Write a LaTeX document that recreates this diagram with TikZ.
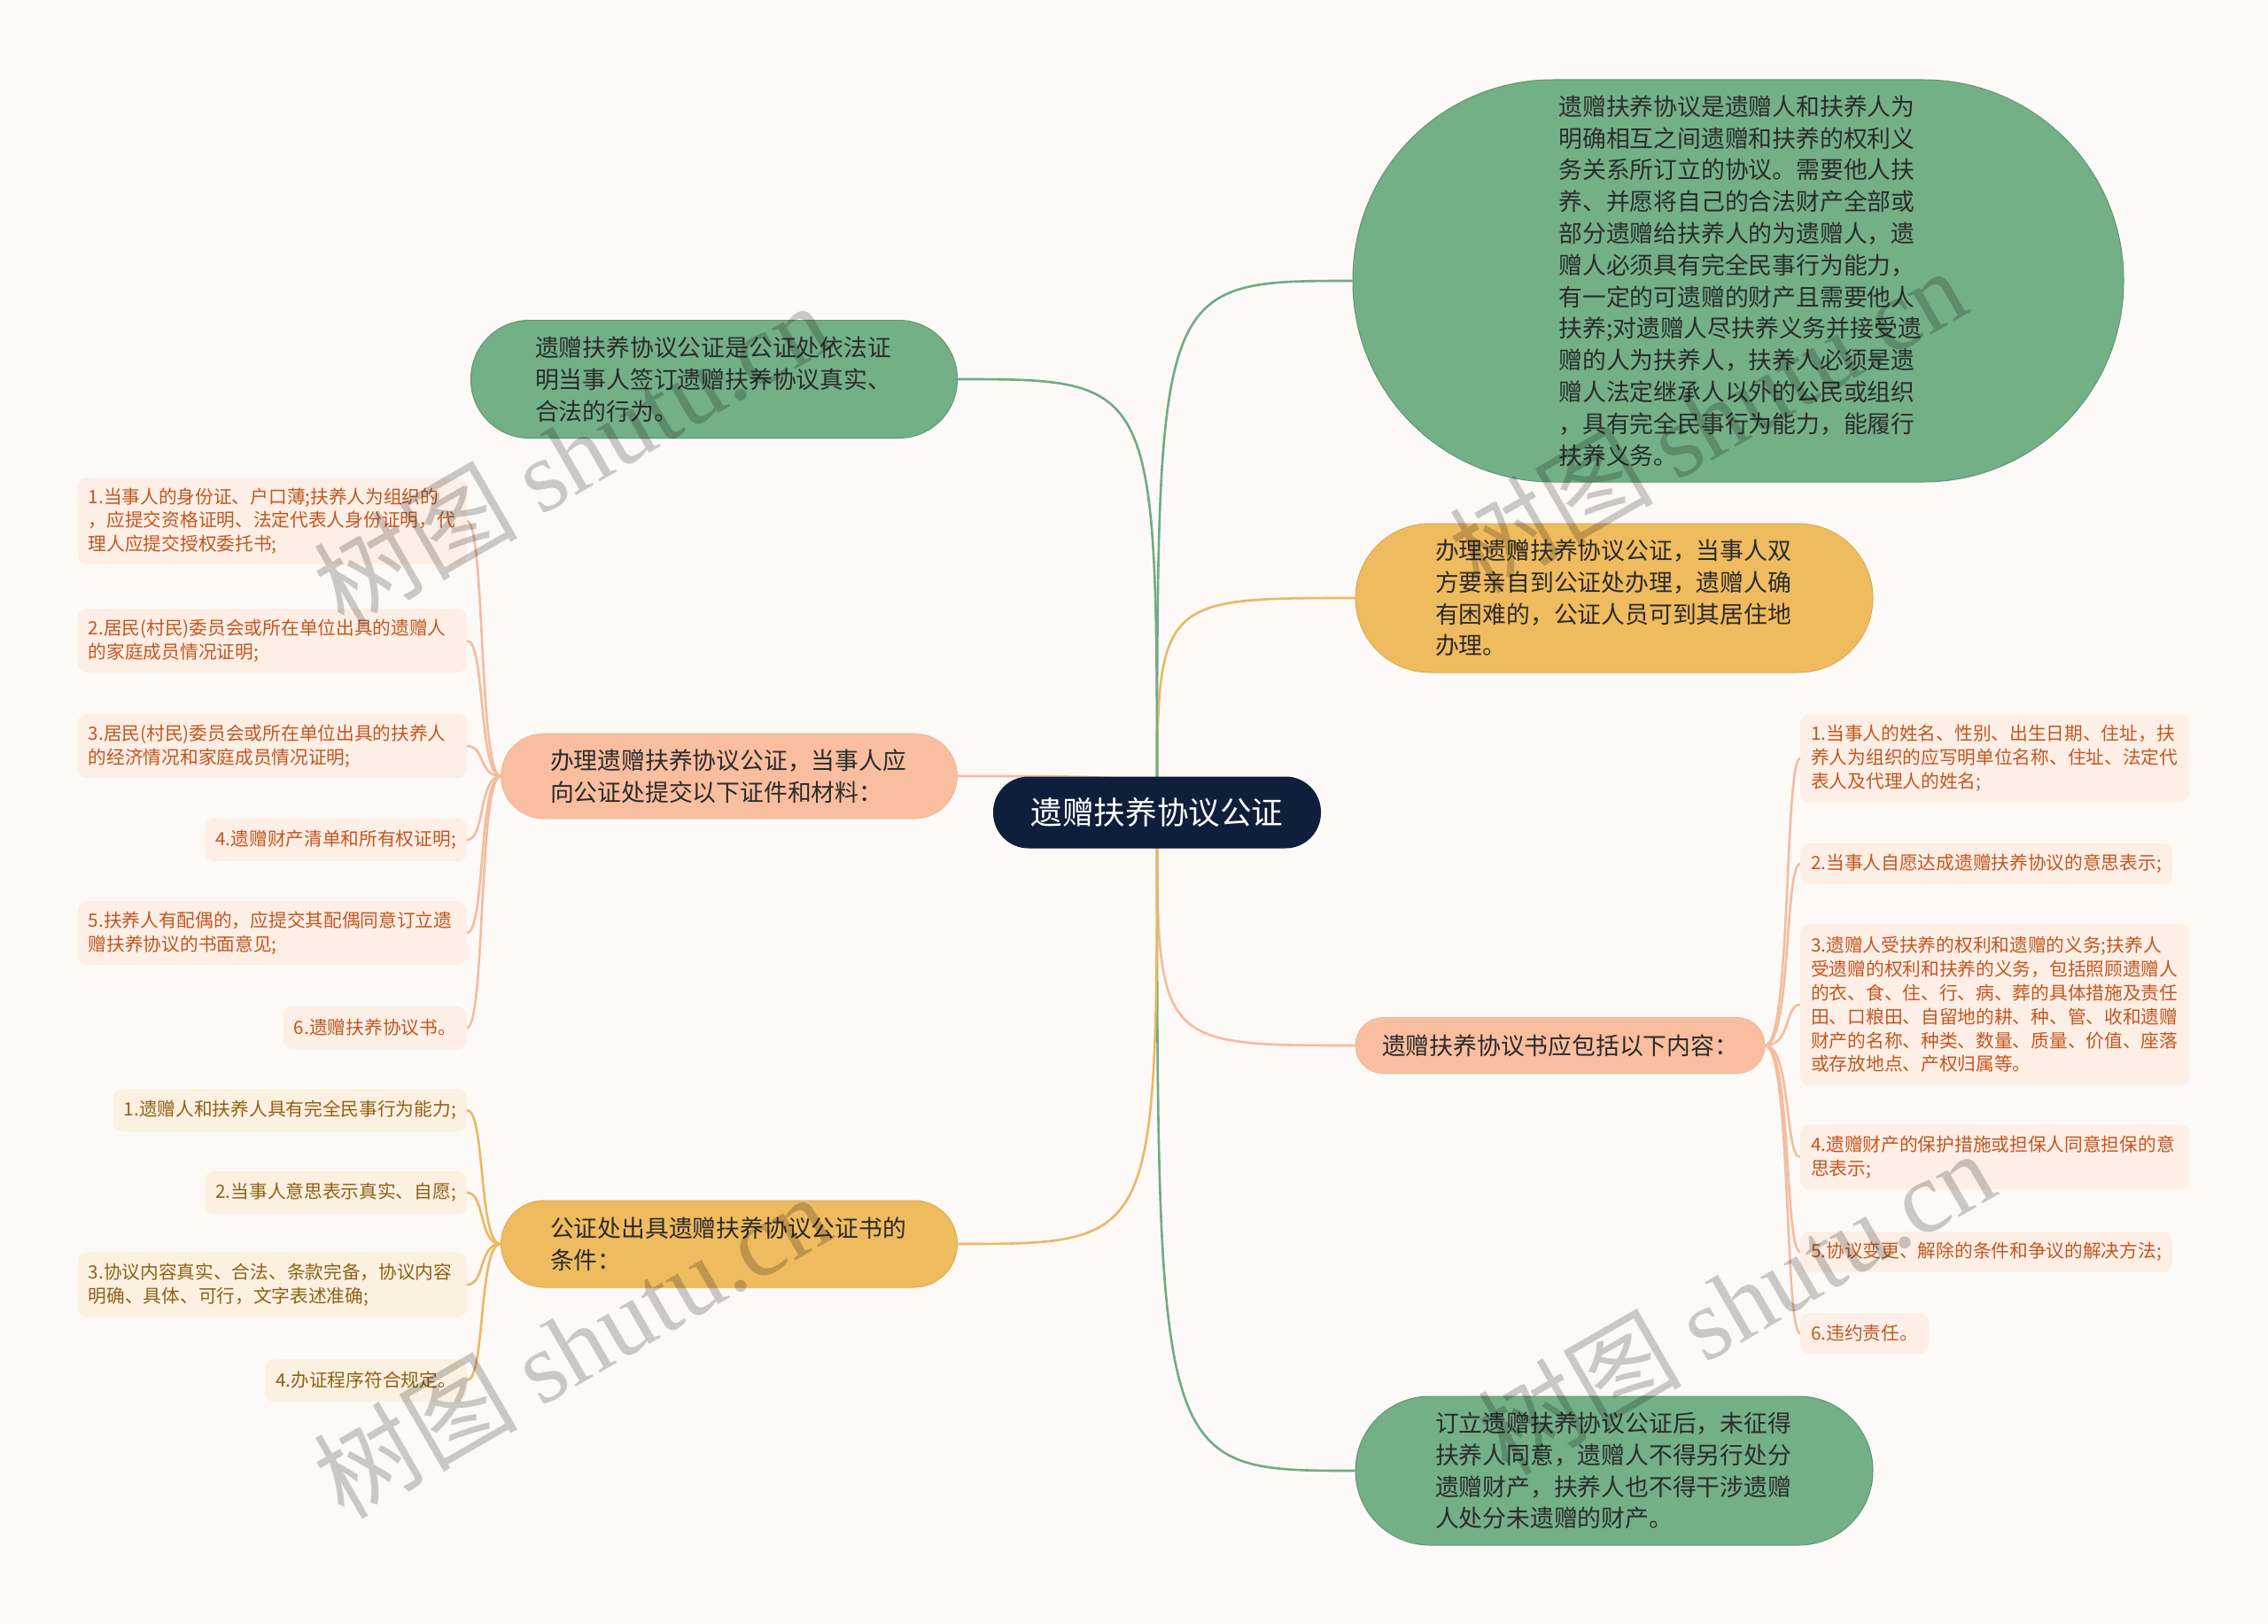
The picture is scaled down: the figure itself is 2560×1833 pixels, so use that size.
\documentclass[tikz,border=0pt]{standalone}
\usepackage{fontspec}
\setmainfont{Noto Sans CJK SC}
\newfontfamily\wmserif{Liberation Serif}
\pgfdeclarelayer{bg}
\pgfdeclarelayer{fg}
\pgfsetlayers{bg,main,fg}
\definecolor{bgc}{HTML}{FDF9F7}
\definecolor{gfill}{HTML}{73B088}
\definecolor{gline}{HTML}{6FAC84}
\definecolor{ofill}{HTML}{EFBB5F}
\definecolor{oline}{HTML}{EBB862}
\definecolor{pfill}{HTML}{F8BE9F}
\definecolor{pline}{HTML}{F4BC9E}
\definecolor{navy}{HTML}{0F1F3B}
\definecolor{maintext}{HTML}{2B2B2B}
\definecolor{ptext}{HTML}{C2571F}
\definecolor{pleaf}{HTML}{FDEEE6}
\definecolor{otext}{HTML}{8E6214}
\definecolor{oleaf}{HTML}{FCF0E1}
\tikzset{
  mainbox/.style={align=left, text=maintext, inner sep=0pt,
    font=\fontsize{26.8pt}{35.8pt}\selectfont},
  greenbox/.style={mainbox, fill=gfill, draw=gfill!85!black, line width=1pt},
  goldbox/.style={mainbox, fill=ofill, draw=ofill!92!black, line width=1pt},
  peachbox/.style={mainbox, fill=pfill, draw=pfill!95!black, line width=0.6pt},
  leafbase/.style={align=left, rounded corners=10pt, inner xsep=12pt, inner ysep=4pt,
    font=\fontsize{20.7pt}{26.8pt}\selectfont},
  pleafbox/.style={leafbase, fill=pleaf, text=ptext},
  oleafbox/.style={leafbase, fill=oleaf, text=otext},
  wide/.style={text width=415pt},
  conn/.style={line width=2.6pt},
  wm/.style={text=black, opacity=0.2, rotate=30, font=\fontsize{115pt}{115pt}\selectfont, inner sep=0pt}
}
\begin{document}
\begin{tikzpicture}[x=1pt,y=-1pt]
\begin{pgfonlayer}{bg}
\fill[bgc] (0,0) rectangle (2560,1833);
\end{pgfonlayer}
\useasboundingbox (0,0) rectangle (2560,1833);

% center
\node[fill=navy, text=white, rounded corners=40pt, minimum width=370pt, minimum height=81pt,
  inner sep=0pt, font=\fontsize{35.6pt}{40pt}\selectfont] (ctr) at (1306,917) {遗赠扶养协议公证};

% right main nodes
\node[greenbox, rounded corners=226pt, minimum width=870pt, minimum height=454pt, text width=405pt] (n1) at (1962,317) {遗赠扶养协议是遗赠人和扶养人为\\明确相互之间遗赠和扶养的权利义\\务关系所订立的协议。需要他人扶\\养、并愿将自己的合法财产全部或\\部分遗赠给扶养人的为遗赠人，遗\\赠人必须具有完全民事行为能力，\\有一定的可遗赠的财产且需要他人\\扶养;对遗赠人尽扶养义务并接受遗\\赠的人为扶养人，扶养人必须是遗\\赠人法定继承人以外的公民或组织\\，具有完全民事行为能力，能履行\\扶养义务。};
\node[goldbox, rounded corners=84pt, minimum width=584pt, minimum height=168pt, text width=404pt] (n2) at (1822,675) {办理遗赠扶养协议公证，当事人双\\方要亲自到公证处办理，遗赠人确\\有困难的，公证人员可到其居住地\\办理。};
\node[peachbox, rounded corners=31pt, minimum width=462pt, minimum height=63pt] (n3) at (1761,1180) {遗赠扶养协议书应包括以下内容：};
\node[greenbox, rounded corners=84pt, minimum width=584pt, minimum height=168pt, text width=404pt] (n4) at (1822,1660) {订立遗赠扶养协议公证后，未征得\\扶养人同意，遗赠人不得另行处分\\遗赠财产，扶养人也不得干涉遗赠\\人处分未遗赠的财产。};

% left main nodes
\node[greenbox, rounded corners=66pt, minimum width=549pt, minimum height=133pt, text width=404pt] (n5) at (806,428) {遗赠扶养协议公证是公证处依法证\\明当事人签订遗赠扶养协议真实、\\合法的行为。};
\node[peachbox, rounded corners=48pt, minimum width=515pt, minimum height=96pt, text width=404pt] (n6) at (823,876) {办理遗赠扶养协议公证，当事人应\\向公证处提交以下证件和材料：};
\node[goldbox, rounded corners=49pt, minimum width=515pt, minimum height=98pt, text width=404pt] (n7) at (823,1404) {公证处出具遗赠扶养协议公证书的\\条件：};

% left peach leaves
\node[pleafbox, wide, minimum height=97pt, anchor=east] (L1) at (527,588) {1.当事人的身份证、户口薄;扶养人为组织的\\，应提交资格证明、法定代表人身份证明，代\\理人应提交授权委托书;};
\node[pleafbox, wide, minimum height=72pt, anchor=east] (L2) at (527,723) {2.居民(村民)委员会或所在单位出具的遗赠人\\的家庭成员情况证明;};
\node[pleafbox, wide, minimum height=72pt, anchor=east] (L3) at (527,842) {3.居民(村民)委员会或所在单位出具的扶养人\\的经济情况和家庭成员情况证明;};
\node[pleafbox, minimum height=48pt, anchor=east] (L4) at (527,948) {4.遗赠财产清单和所有权证明;};
\node[pleafbox, wide, minimum height=72pt, anchor=east] (L5) at (527,1053) {5.扶养人有配偶的，应提交其配偶同意订立遗\\赠扶养协议的书面意见;};
\node[pleafbox, minimum height=48pt, anchor=east] (L6) at (527,1160) {6.遗赠扶养协议书。};

% left gold leaves
\node[oleafbox, minimum height=48pt, anchor=east] (G1) at (527,1253) {1.遗赠人和扶养人具有完全民事行为能力;};
\node[oleafbox, minimum height=48pt, anchor=east] (G2) at (527,1346) {2.当事人意思表示真实、自愿;};
\node[oleafbox, wide, minimum height=73pt, anchor=east] (G3) at (527,1450) {3.协议内容真实、合法、条款完备，协议内容\\明确、具体、可行，文字表述准确;};
\node[oleafbox, minimum height=48pt, anchor=east] (G4) at (527,1558) {4.办证程序符合规定。};

% right peach leaves
\node[pleafbox, wide, minimum height=99pt, anchor=west] (R1) at (2032,856) {1.当事人的姓名、性别、出生日期、住址，扶\\养人为组织的应写明单位名称、住址、法定代\\表人及代理人的姓名;};
\node[pleafbox, minimum height=46pt, anchor=west] (R2) at (2032,975) {2.当事人自愿达成遗赠扶养协议的意思表示;};
\node[pleafbox, wide, minimum height=182pt, anchor=west] (R3) at (2032,1134) {3.遗赠人受扶养的权利和遗赠的义务;扶养人\\受遗赠的权利和扶养的义务，包括照顾遗赠人\\的衣、食、住、行、病、葬的具体措施及责任\\田、口粮田、自留地的耕、种、管、收和遗赠\\财产的名称、种类、数量、质量、价值、座落\\或存放地点、产权归属等。};
\node[pleafbox, wide, minimum height=73pt, anchor=west] (R4) at (2032,1306) {4.遗赠财产的保护措施或担保人同意担保的意\\思表示;};
\node[pleafbox, minimum height=46pt, anchor=west] (R5) at (2032,1413) {5.协议变更、解除的条件和争议的解决方法;};
\node[pleafbox, minimum height=46pt, anchor=west] (R6) at (2032,1505) {6.违约责任。};

\begin{pgfonlayer}{bg}
% main connectors
\draw[conn, gline] (ctr.center) .. controls (1306,317) and (1306,317) .. (n1.west);
\draw[conn, oline] (ctr.center) .. controls (1306,675) and (1306,675) .. (n2.west);
\draw[conn, pline] (ctr.center) .. controls (1306,1180) and (1306,1180) .. (n3.west);
\draw[conn, gline] (ctr.center) .. controls (1306,1660) and (1306,1660) .. (n4.west);
\draw[conn, gline] (ctr.center) .. controls (1306,428) and (1306,428) .. (n5.east);
\draw[conn, pline] (ctr.center) .. controls (1306,876) and (1306,876) .. (n6.east);
\draw[conn, oline] (ctr.center) .. controls (1306,1404) and (1306,1404) .. (n7.east);
% left peach leaves
\foreach \n/\y in {L1/588, L2/723, L3/842, L4/948, L5/1053, L6/1160}
  \draw[conn, pline] (n6.west) .. controls (540,876) and (548,\y) .. (\n.east);
% left gold leaves
\foreach \n/\y in {G1/1253, G2/1346, G3/1450, G4/1558}
  \draw[conn, oline] (n7.west) .. controls (540,1404) and (548,\y) .. (\n.east);
% right peach leaves
\foreach \n/\y in {R1/856, R2/975, R3/1134, R4/1306, R5/1413, R6/1505}
  \draw[conn, pline] (n3.east) .. controls (2022,1180) and (2014,\y) .. (\n.west);
\end{pgfonlayer}

% watermarks
\begin{pgfonlayer}{fg}
\node[wm] (w1) at (645,512) {树图 {\wmserif shutu.cn}};
\node[wm] (w2) at (645,1518) {树图 {\wmserif shutu.cn}};
\node[wm] (w3) at (1927,473) {树图 {\wmserif shutu.cn}};
\node[wm] (w4) at (1959,1469) {树图 {\wmserif shutu.cn}};
\end{pgfonlayer}
\end{tikzpicture}
\end{document}
